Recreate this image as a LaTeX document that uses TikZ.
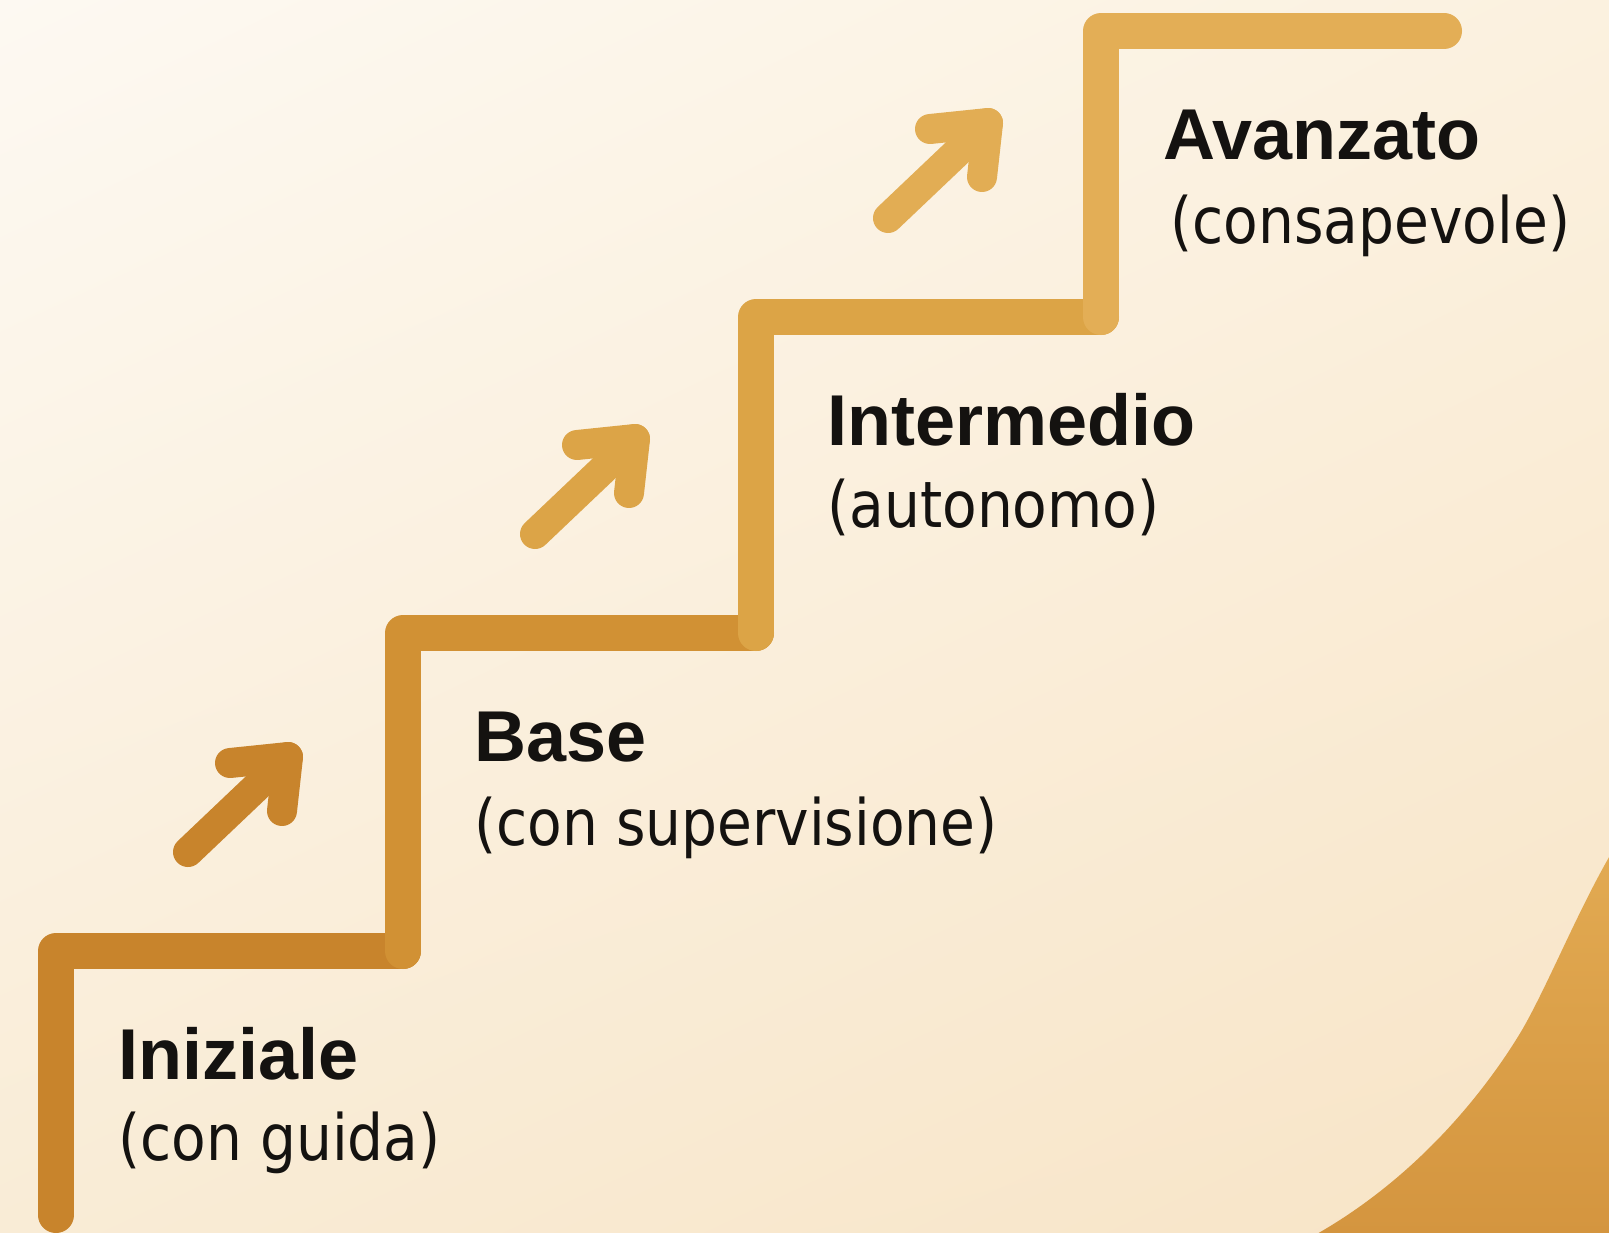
\documentclass[tikz,border=0pt]{standalone}
\usepackage{fontspec}
\newfontfamily\headfont{Liberation Sans}
\newfontfamily\notefont{DejaVu Sans}[FakeStretch=0.885]
\usetikzlibrary{positioning}
\usetikzlibrary{shadings}
\definecolor{ink}{HTML}{141210}
\definecolor{bgA}{HTML}{FDF9F2}
\definecolor{bgB}{HTML}{FBF1DF}
\definecolor{bgC}{HTML}{F9ECD6}
\definecolor{bgD}{HTML}{F8E4C6}
\definecolor{stepA}{HTML}{C8842C}
\definecolor{stepB}{HTML}{D19134}
\definecolor{stepC}{HTML}{DCA446}
\definecolor{stepD}{HTML}{E3AE56}
\definecolor{blobA}{HTML}{E2AA52}
\definecolor{blobB}{HTML}{D4953F}

\begin{document}
\begin{tikzpicture}
	[x=0.5pt, y=-0.5pt,
	stair/.style={line width=18pt, line cap=round, line join=round},
	upmark/.style={line width=15pt, line cap=round, line join=round},
	stepname/.style={anchor=base west, inner sep=0pt, text=ink,
		font=\headfont\bfseries\fontsize{36}{40}\selectfont},
	stepnote/.style={anchor=base west, inner sep=0pt, text=ink,
		font=\notefont\fontsize{32}{36}\selectfont}]
	\useasboundingbox (0,0) rectangle (1609,1232);
	\clip (0,0) rectangle (1609,1232);
	\shade[upper left=bgA, upper right=bgB, lower left=bgC, lower right=bgD]
		(0,0) rectangle (1609,1232);
	% corner wave
	\shade[top color=blobA, bottom color=blobB]
		(1612,852) .. controls (1578,910) and (1548,985) .. (1522,1030)
		.. controls (1497,1072) and (1430,1170) .. (1315,1235)
		-- (1612,1235) -- cycle;
	% the stairs
	\draw[stair, stepA] (56,1215) -- (56,951) -- (403,951);
	\draw[stair, stepB] (403,951) -- (403,633) -- (756,633);
	\draw[stair, stepC] (756,633) -- (756,317) -- (1101,317);
	\draw[stair, stepD] (1101,317) -- (1101,31) -- (1444,31);
	% arrows
	\draw[upmark, stepA] (188,852) -- (288,757);
	\draw[upmark, stepA] (230,763) -- (288,757) -- (282,811);
	\draw[upmark, stepC!95!stepD] (535,534) -- (635,439);
	\draw[upmark, stepC!95!stepD] (577,445) -- (635,439) -- (629,493);
	\draw[upmark, stepD!90!stepC] (888,218) -- (988,123);
	\draw[upmark, stepD!90!stepC] (930,129) -- (988,123) -- (982,177);
	% labels
	\node[stepname] (iniziale) at (118,1079) {Iniziale};
	\node[stepnote] (inizialeNote) at (118,1160) {(con guida)};
	\node[stepname] (base) at (474,761) {Base};
	\node[stepnote] (baseNote) at (474,845) {(con supervisione)};
	\node[stepname] (intermedio) at (827,445) {Intermedio};
	\node[stepnote] (intermedioNote) at (827,527) {(autonomo)};
	\node[stepname] (avanzato) at (1163,159) {Avanzato};
	\node[stepnote] (avanzatoNote) at (1170,243) {(consapevole)};
\end{tikzpicture}
\end{document}
